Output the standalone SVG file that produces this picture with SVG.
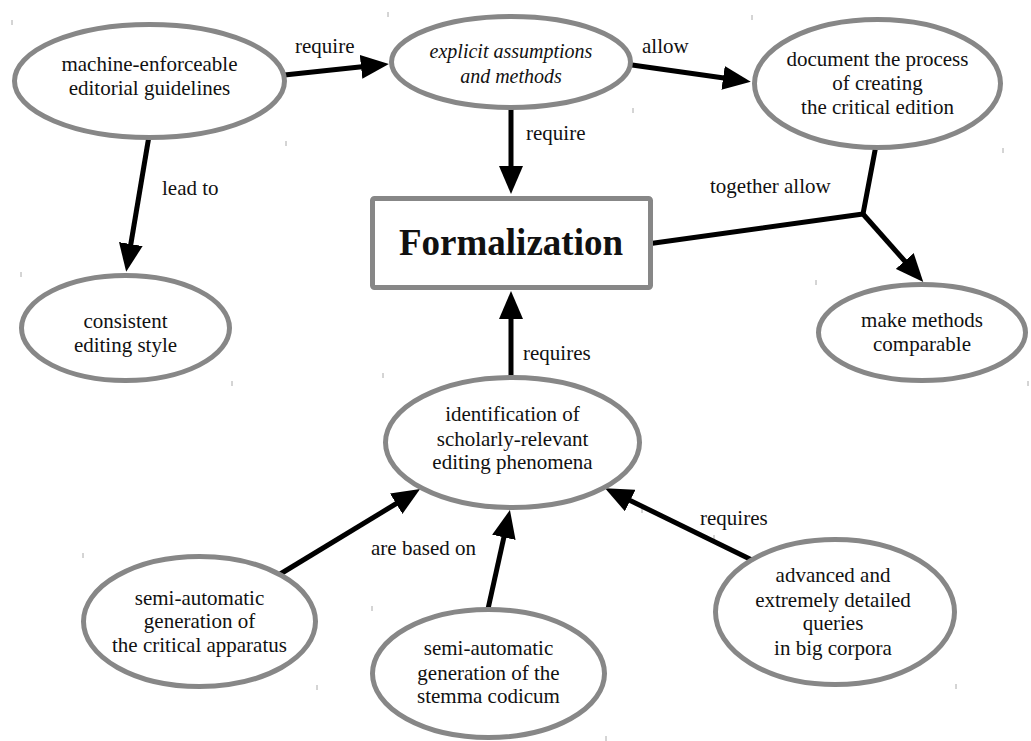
<svg xmlns="http://www.w3.org/2000/svg" width="1031" height="741" viewBox="0 0 1031 741">
<defs>
<marker id="ah" markerUnits="userSpaceOnUse" markerWidth="28" markerHeight="24" refX="8" refY="12" orient="auto">
<path d="M0,0 L28,12 L0,24 z" fill="#000"/>
</marker>
<style>
.n{fill:#fff;stroke:#878787;stroke-width:5}
.t{font-family:"Liberation Serif","Times New Roman",serif;font-size:21px;fill:#111;text-anchor:middle}
.i{font-style:italic;font-size:20px}
.l{font-family:"Liberation Serif","Times New Roman",serif;font-size:21px;fill:#111}
.c{fill:none;stroke:#000;stroke-width:5}
.a{marker-end:url(#ah)}
.k{stroke:#aaa;stroke-width:1}
</style>
</defs>
<rect width="1031" height="741" fill="#fff"/>
<g id="ticks">
<line class="k" x1="12" y1="20" x2="12" y2="25"/>
<line class="k" x1="286" y1="141" x2="286" y2="146"/>
<line class="k" x1="388" y1="12" x2="388" y2="17"/>
<line class="k" x1="633" y1="108" x2="633" y2="113"/>
<line class="k" x1="752" y1="15" x2="752" y2="20"/>
<line class="k" x1="1003" y1="148" x2="1003" y2="153"/>
<line class="k" x1="21" y1="272" x2="21" y2="277"/>
<line class="k" x1="232" y1="381" x2="232" y2="386"/>
<line class="k" x1="816" y1="280" x2="816" y2="285"/>
<line class="k" x1="1028" y1="381" x2="1028" y2="386"/>
<line class="k" x1="383" y1="373" x2="383" y2="378"/>
<line class="k" x1="642" y1="508" x2="642" y2="513"/>
<line class="k" x1="83" y1="553" x2="83" y2="558"/>
<line class="k" x1="317" y1="685" x2="317" y2="690"/>
<line class="k" x1="372" y1="606" x2="372" y2="611"/>
<line class="k" x1="606" y1="736" x2="606" y2="741"/>
<line class="k" x1="714" y1="535" x2="714" y2="540"/>
<line class="k" x1="956" y1="684" x2="956" y2="689"/>
</g>
<g id="connectors">
<line class="c a" x1="275" y1="76" x2="369" y2="66"/>
<line class="c a" x1="625" y1="64" x2="731" y2="79"/>
<line class="c a" x1="511" y1="100" x2="511" y2="174"/>
<line class="c a" x1="150" y1="130" x2="129.5" y2="252"/>
<path class="c" d="M640,245 L863,214 L877,140"/>
<line class="c a" x1="863" y1="214" x2="910" y2="267"/>
<line class="c a" x1="511" y1="385" x2="511" y2="311"/>
<line class="c a" x1="272" y1="579" x2="403" y2="499.5"/>
<line class="c a" x1="486" y1="618" x2="505.6" y2="529.5"/>
<line class="c a" x1="758" y1="563" x2="623" y2="497"/>
<text class="l" x="295" y="53">require</text>
<text class="l" x="642" y="53">allow</text>
<text class="l" x="526" y="140">require</text>
<text class="l" x="162" y="195">lead to</text>
<text class="l" x="710" y="193">together allow</text>
<text class="l" x="523" y="360">requires</text>
<text class="l" x="371" y="555">are based on</text>
<text class="l" x="700" y="525">requires</text>
</g>
<g id="n-guidelines">
<ellipse class="n" cx="149.5" cy="81" rx="135" ry="56.5"/>
<text class="t" x="149.5" y="71">machine-enforceable</text>
<text class="t" x="149.5" y="95">editorial guidelines</text>
</g>
<g id="n-explicit">
<ellipse class="n" cx="511" cy="62" rx="119.5" ry="45.5"/>
<text class="t i" x="511" y="58">explicit assumptions</text>
<text class="t i" x="511" y="83">and methods</text>
</g>
<g id="n-document">
<ellipse class="n" cx="877.5" cy="83.5" rx="123" ry="64"/>
<text class="t" x="877.5" y="66">document the process</text>
<text class="t" x="877.5" y="90">of creating</text>
<text class="t" x="877.5" y="114">the critical edition</text>
</g>
<g id="n-formalization">
<rect class="n" x="372.5" y="198.5" width="278" height="89" rx="2"/>
<text class="t" x="511" y="255" style="font-weight:bold;font-size:37px">Formalization</text>
</g>
<g id="n-consistent">
<ellipse class="n" cx="125.5" cy="328" rx="104" ry="52.5"/>
<text class="t" x="125.5" y="328">consistent</text>
<text class="t" x="125.5" y="352">editing style</text>
</g>
<g id="n-comparable">
<ellipse class="n" cx="922" cy="332.5" rx="103.5" ry="48"/>
<text class="t" x="922" y="327">make methods</text>
<text class="t" x="922" y="351">comparable</text>
</g>
<g id="n-identification">
<ellipse class="n" cx="512.5" cy="442.5" rx="127" ry="65"/>
<text class="t" x="512.5" y="421">identification of</text>
<text class="t" x="512.5" y="446">scholarly-relevant</text>
<text class="t" x="512.5" y="469">editing phenomena</text>
</g>
<g id="n-apparatus">
<ellipse class="n" cx="199.5" cy="621.5" rx="116" ry="65"/>
<text class="t" x="199.5" y="605">semi-automatic</text>
<text class="t" x="199.5" y="628">generation of</text>
<text class="t" x="199.5" y="652">the critical apparatus</text>
</g>
<g id="n-stemma">
<ellipse class="n" cx="488.5" cy="673.5" rx="116" ry="64"/>
<text class="t" x="488.5" y="655">semi-automatic</text>
<text class="t" x="488.5" y="680">generation of the</text>
<text class="t" x="488.5" y="703">stemma codicum</text>
</g>
<g id="n-queries">
<ellipse class="n" cx="835" cy="612" rx="119.5" ry="72.5"/>
<text class="t" x="833" y="582">advanced and</text>
<text class="t" x="833" y="607">extremely detailed</text>
<text class="t" x="833" y="630">queries</text>
<text class="t" x="833" y="655">in big corpora</text>
</g>
</svg>
